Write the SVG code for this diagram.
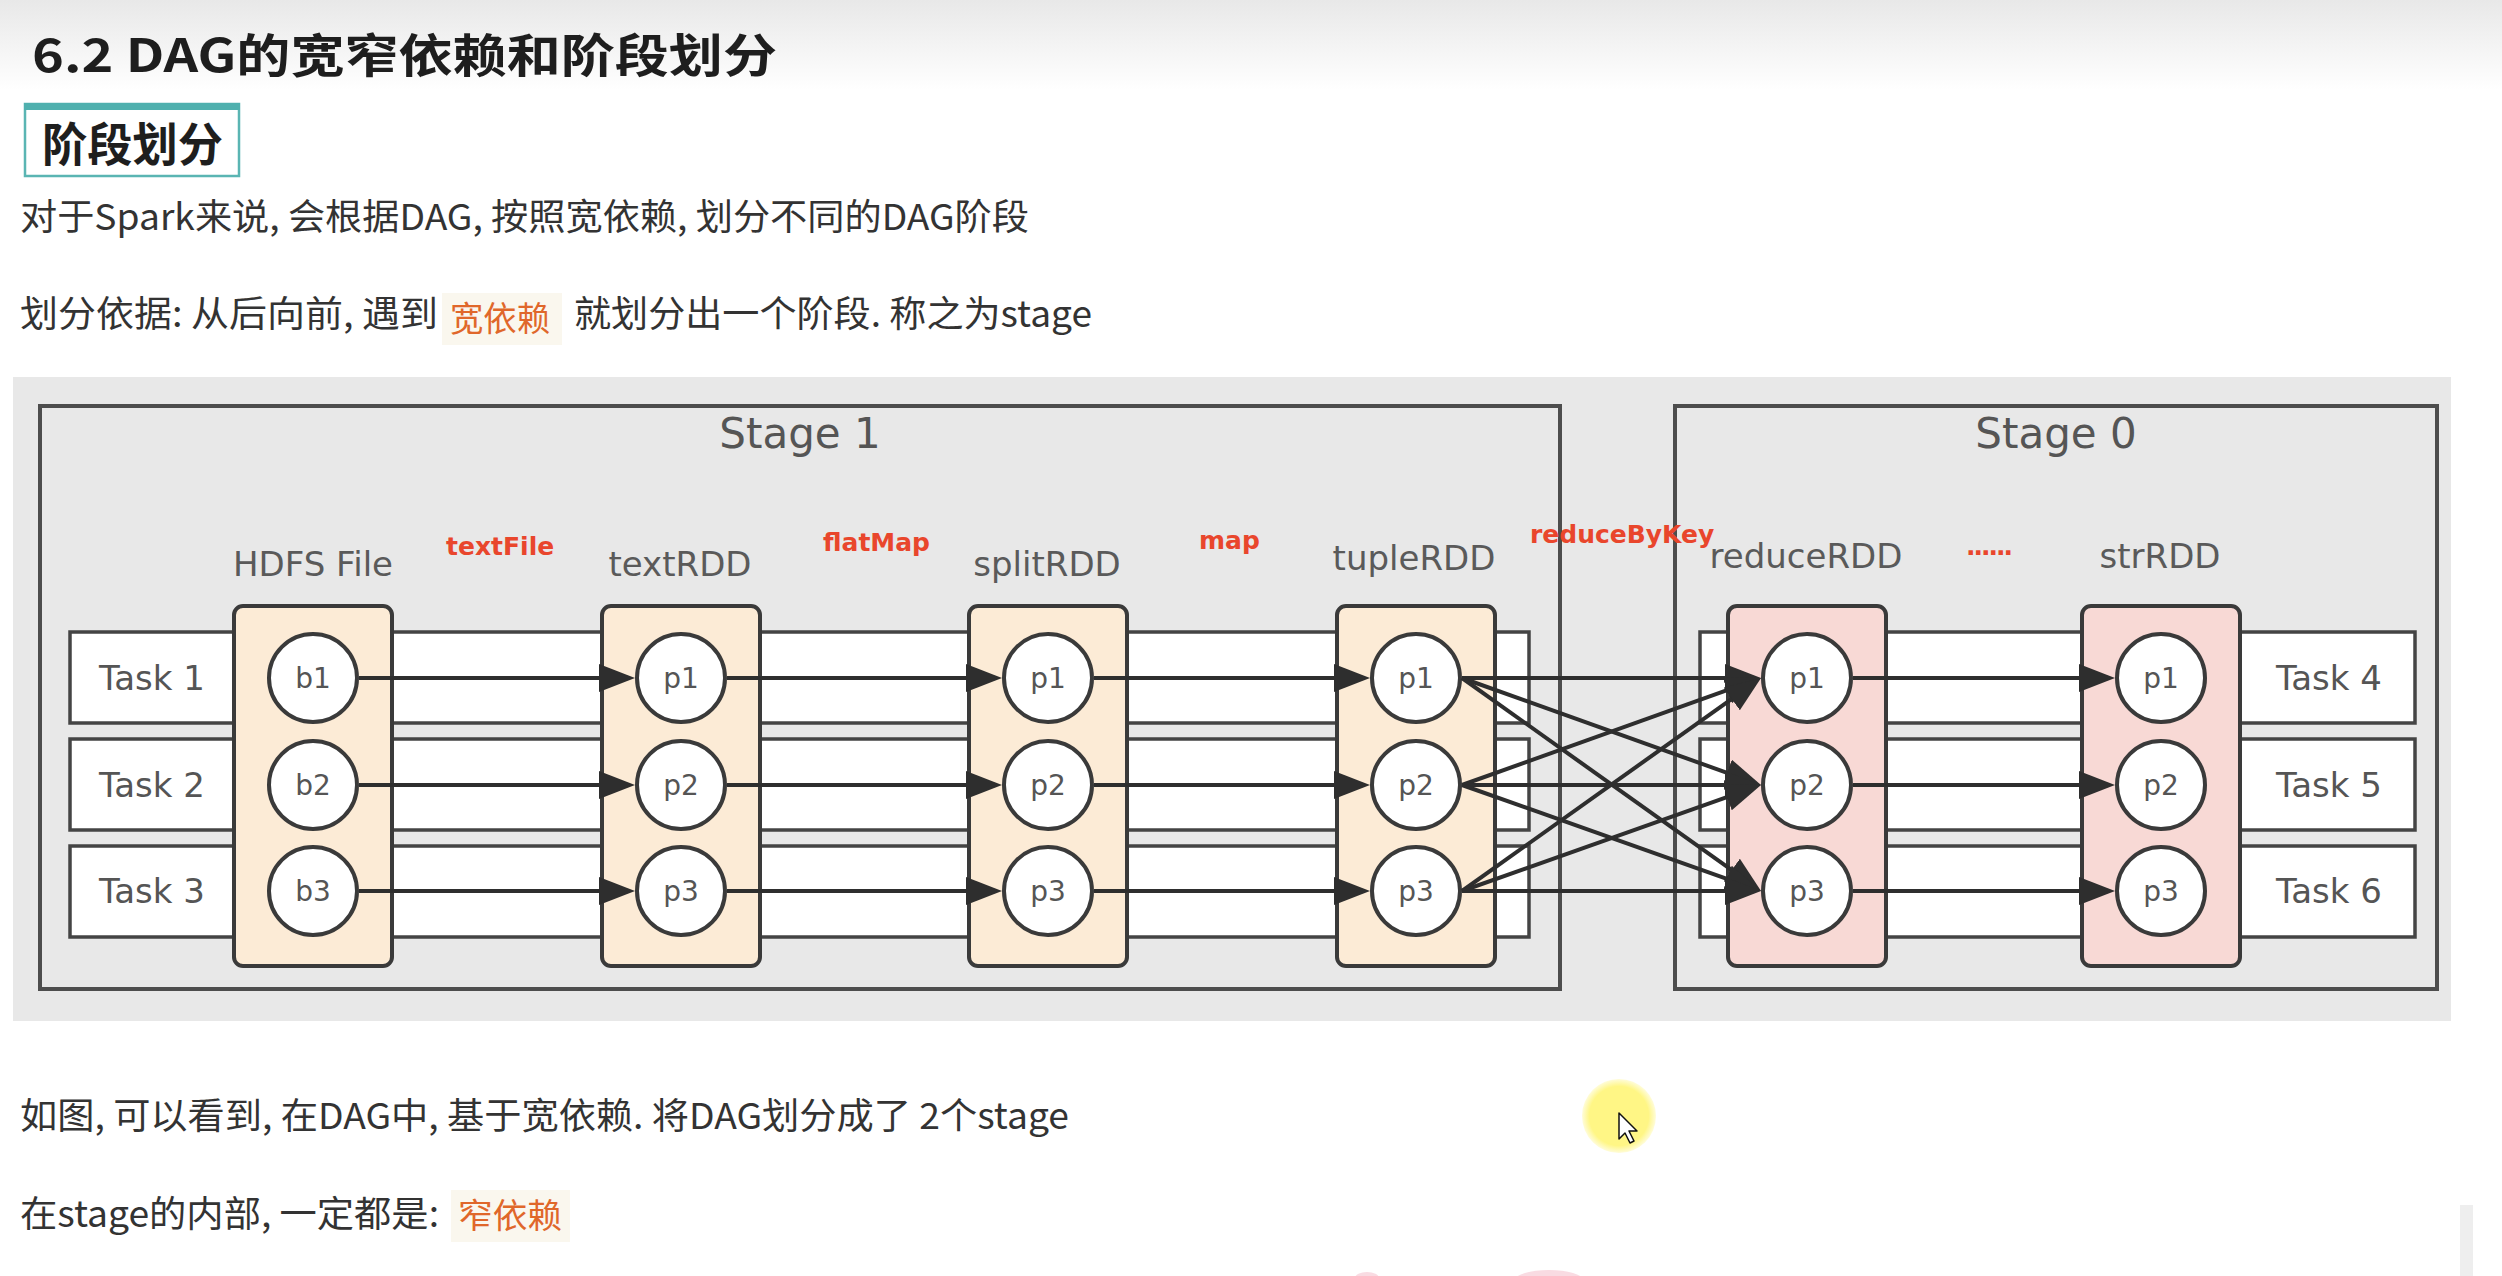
<svg xmlns="http://www.w3.org/2000/svg" width="2502" height="1276" viewBox="0 0 2502 1276">
<defs>
<linearGradient id="topfade" x1="0" y1="0" x2="0" y2="1">
<stop offset="0" stop-color="#e8e8e8"/>
<stop offset="1" stop-color="#ffffff"/>
</linearGradient>
<radialGradient id="hl" cx="0.5" cy="0.5" r="0.5">
<stop offset="0.8" stop-color="#fff685"/>
<stop offset="1" stop-color="#fff685" stop-opacity="0.3"/>
</radialGradient>
<marker id="arr" viewBox="0 0 36 28" refX="26" refY="14" markerWidth="36" markerHeight="28" markerUnits="userSpaceOnUse" orient="auto">
<path d="M0,0 L36,14 L0,28 Z" fill="#2e2e2e"/>
</marker>
</defs>
<style>
.web{font-family:"Noto Sans CJK SC","Noto Sans",sans-serif;fill:#333;font-size:36px}
.title{font-family:"Noto Sans CJK SC","Noto Sans",sans-serif;font-weight:700;fill:#1e1e1e;font-size:46px}
.hltxt{font-family:"Noto Sans CJK SC",sans-serif;fill:#e0672a;font-size:34px}
.hlbg{fill:#faf7ee}
.stage{fill:none;stroke:#4d4d4d;stroke-width:4}
.stagelbl{font-family:"DejaVu Sans",sans-serif;font-size:42px;fill:#555;text-anchor:middle}
.row{fill:#ffffff;stroke:#444;stroke-width:3.5}
.task{font-family:"DejaVu Sans",sans-serif;font-size:34px;fill:#555}
.rddA{fill:#fcebd6;stroke:#3a3a3a;stroke-width:4}
.rddB{fill:#f8d9d5;stroke:#3a3a3a;stroke-width:4}
.rddlbl{font-family:"DejaVu Sans",sans-serif;font-size:34px;fill:#5a5a5a;text-anchor:middle}
.part{fill:#ffffff;stroke:#3a3a3a;stroke-width:4}
.plbl{font-family:"DejaVu Sans",sans-serif;font-size:28px;fill:#555;text-anchor:middle}
.op{font-family:"DejaVu Sans",sans-serif;font-weight:700;font-size:25px;fill:#e9462c}
.conn line{stroke:#2e2e2e;stroke-width:4;marker-end:url(#arr)}
</style>

<rect x="0" y="0" width="2502" height="1276" fill="#ffffff"/>
<rect x="0" y="0" width="2502" height="90" fill="url(#topfade)"/>

<g id="page-text">
<text class="title" x="32" y="72" textLength="745" lengthAdjust="spacingAndGlyphs">6.2 DAG的宽窄依赖和阶段划分</text>
<g id="section-box">
<rect x="25" y="104" width="214" height="72" fill="#ffffff" stroke="#5ab5b3" stroke-width="2.5"/>
<rect x="24" y="103" width="216" height="7" fill="#4fb0ae"/>
<text class="title" x="42" y="161" textLength="181" lengthAdjust="spacingAndGlyphs">阶段划分</text>
</g>
<text class="web" x="20" y="230" textLength="1009" lengthAdjust="spacingAndGlyphs">对于Spark来说, 会根据DAG, 按照宽依赖, 划分不同的DAG阶段</text>
<text class="web" x="20" y="327" textLength="418" lengthAdjust="spacingAndGlyphs">划分依据: 从后向前, 遇到</text>
<rect class="hlbg" x="442" y="293" width="120" height="52"/>
<text class="hltxt" x="450" y="331" textLength="100" lengthAdjust="spacingAndGlyphs">宽依赖</text>
<text class="web" x="574" y="327" textLength="518" lengthAdjust="spacingAndGlyphs">就划分出一个阶段. 称之为stage</text>
<text class="web" x="20" y="1129" textLength="1049" lengthAdjust="spacingAndGlyphs">如图, 可以看到, 在DAG中, 基于宽依赖. 将DAG划分成了 2个stage</text>
<text class="web" x="20" y="1227" textLength="419" lengthAdjust="spacingAndGlyphs">在stage的内部, 一定都是:</text>
<rect class="hlbg" x="451" y="1190" width="119" height="52"/>
<text class="hltxt" x="458" y="1228" textLength="104" lengthAdjust="spacingAndGlyphs">窄依赖</text>
</g>

<rect id="diagram-bg" x="13" y="377" width="2438" height="644" fill="#e8e8e8"/>

<g id="stage1">
<rect class="stage" x="40" y="406" width="1520" height="583"/>
<text class="stagelbl" x="800" y="448">Stage 1</text>
</g>
<g id="stage0">
<rect class="stage" x="1675" y="406" width="762" height="583"/>
<text class="stagelbl" x="2056" y="448">Stage 0</text>
</g>

<g id="task1"><rect class="row" x="70" y="632" width="1459" height="91"/><text class="task" x="99" y="690">Task 1</text></g>
<g id="task2"><rect class="row" x="70" y="739" width="1459" height="91"/><text class="task" x="99" y="797">Task 2</text></g>
<g id="task3"><rect class="row" x="70" y="846" width="1459" height="91"/><text class="task" x="99" y="903">Task 3</text></g>
<g id="task4"><rect class="row" x="1700" y="632" width="715" height="91"/><text class="task" x="2276" y="690">Task 4</text></g>
<g id="task5"><rect class="row" x="1700" y="739" width="715" height="91"/><text class="task" x="2276" y="797">Task 5</text></g>
<g id="task6"><rect class="row" x="1700" y="846" width="715" height="91"/><text class="task" x="2276" y="903">Task 6</text></g>

<g id="op-labels">
<text class="op" x="446" y="555">textFile</text>
<text class="op" x="823" y="551">flatMap</text>
<text class="op" x="1199" y="549">map</text>
<text class="op" x="1530" y="543">reduceByKey</text>
<text class="op" x="1966" y="555" font-size="18" textLength="47" lengthAdjust="spacing">......</text>
</g>

<g id="hdfs">
<text class="rddlbl" x="313" y="576">HDFS File</text>
<rect class="rddA" x="234" y="606" width="158" height="360" rx="9"/>
<circle class="part" cx="313" cy="678" r="44"/><text class="plbl" x="313" y="688">b1</text>
<circle class="part" cx="313" cy="785" r="44"/><text class="plbl" x="313" y="795">b2</text>
<circle class="part" cx="313" cy="891" r="44"/><text class="plbl" x="313" y="901">b3</text>
</g>
<g id="textRDD">
<text class="rddlbl" x="680" y="576">textRDD</text>
<rect class="rddA" x="602" y="606" width="158" height="360" rx="9"/>
<circle class="part" cx="681" cy="678" r="44"/><text class="plbl" x="681" y="688">p1</text>
<circle class="part" cx="681" cy="785" r="44"/><text class="plbl" x="681" y="795">p2</text>
<circle class="part" cx="681" cy="891" r="44"/><text class="plbl" x="681" y="901">p3</text>
</g>
<g id="splitRDD">
<text class="rddlbl" x="1047" y="576">splitRDD</text>
<rect class="rddA" x="969" y="606" width="158" height="360" rx="9"/>
<circle class="part" cx="1048" cy="678" r="44"/><text class="plbl" x="1048" y="688">p1</text>
<circle class="part" cx="1048" cy="785" r="44"/><text class="plbl" x="1048" y="795">p2</text>
<circle class="part" cx="1048" cy="891" r="44"/><text class="plbl" x="1048" y="901">p3</text>
</g>
<g id="tupleRDD">
<text class="rddlbl" x="1414" y="570">tupleRDD</text>
<rect class="rddA" x="1337" y="606" width="158" height="360" rx="9"/>
<circle class="part" cx="1416" cy="678" r="44"/><text class="plbl" x="1416" y="688">p1</text>
<circle class="part" cx="1416" cy="785" r="44"/><text class="plbl" x="1416" y="795">p2</text>
<circle class="part" cx="1416" cy="891" r="44"/><text class="plbl" x="1416" y="901">p3</text>
</g>
<g id="reduceRDD">
<text class="rddlbl" x="1806" y="568">reduceRDD</text>
<rect class="rddB" x="1728" y="606" width="158" height="360" rx="9"/>
<circle class="part" cx="1807" cy="678" r="44"/><text class="plbl" x="1807" y="688">p1</text>
<circle class="part" cx="1807" cy="785" r="44"/><text class="plbl" x="1807" y="795">p2</text>
<circle class="part" cx="1807" cy="891" r="44"/><text class="plbl" x="1807" y="901">p3</text>
</g>
<g id="strRDD">
<text class="rddlbl" x="2160" y="568">strRDD</text>
<rect class="rddB" x="2082" y="606" width="158" height="360" rx="9"/>
<circle class="part" cx="2161" cy="678" r="44"/><text class="plbl" x="2161" y="688">p1</text>
<circle class="part" cx="2161" cy="785" r="44"/><text class="plbl" x="2161" y="795">p2</text>
<circle class="part" cx="2161" cy="891" r="44"/><text class="plbl" x="2161" y="901">p3</text>
</g>

<g id="connectors" class="conn">
<line x1="359" y1="678" x2="625" y2="678"/>
<line x1="359" y1="785" x2="625" y2="785"/>
<line x1="359" y1="891" x2="625" y2="891"/>
<line x1="727" y1="678" x2="992" y2="678"/>
<line x1="727" y1="785" x2="992" y2="785"/>
<line x1="727" y1="891" x2="992" y2="891"/>
<line x1="1094" y1="678" x2="1360" y2="678"/>
<line x1="1094" y1="785" x2="1360" y2="785"/>
<line x1="1094" y1="891" x2="1360" y2="891"/>
<line x1="1462" y1="678" x2="1751" y2="678"/>
<line x1="1462" y1="678" x2="1751.6" y2="781.6"/>
<line x1="1462" y1="678" x2="1752.9" y2="885.2"/>
<line x1="1462" y1="785" x2="1751.6" y2="681.4"/>
<line x1="1462" y1="785" x2="1751" y2="785"/>
<line x1="1462" y1="785" x2="1751.6" y2="887.6"/>
<line x1="1462" y1="891" x2="1752.9" y2="683.8"/>
<line x1="1462" y1="891" x2="1751.6" y2="788.4"/>
<line x1="1462" y1="891" x2="1751" y2="891"/>
<line x1="1853" y1="678" x2="2105" y2="678"/>
<line x1="1853" y1="785" x2="2105" y2="785"/>
<line x1="1853" y1="891" x2="2105" y2="891"/>
</g>

<g id="cursor">
<circle cx="1619" cy="1116" r="37" fill="url(#hl)"/>
<path d="M1619,1113 L1619,1139 L1625,1133 L1630,1143 L1634,1141 L1629,1131 L1637,1131 Z" fill="#ffffff" stroke="#111" stroke-width="1.5" stroke-linejoin="round"/>
</g>

<g id="edge-bits">
<ellipse cx="1367" cy="1278" rx="12" ry="6" fill="#f9dbe2"/>
<ellipse cx="1549" cy="1280" rx="34" ry="10" fill="#f9dbe2"/>
<rect x="2460" y="1205" width="13" height="71" fill="#eeeeee"/>
</g>
</svg>
